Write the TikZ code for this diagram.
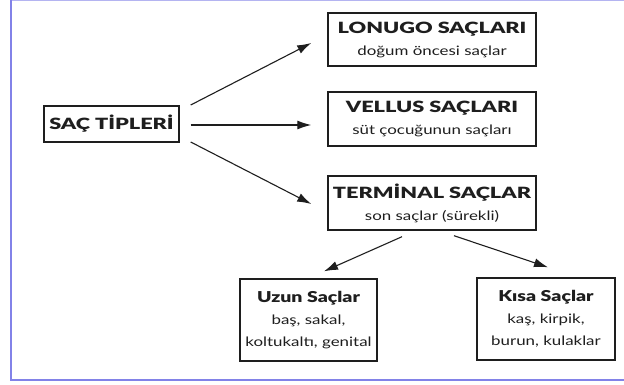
\documentclass[tikz,border=0pt]{standalone}
\usepackage{fontspec}
\setmainfont{Lato}[FakeStretch=1.3]
\newfontfamily\capsfont{Lato Black}[FakeStretch=1.4]
\newfontfamily\mixfont{Lato Black}[FakeStretch=1.3]
\usetikzlibrary{arrows.meta,calc}
\definecolor{frameblue}{RGB}{130,130,232}
\definecolor{ink}{RGB}{30,30,30}
\tikzset{
  box/.style={draw=ink, line width=1.4pt, fill=white, inner sep=0pt, align=center, text=ink,
    font=\fontsize{13}{22}\selectfont},
  conn/.style={draw=ink, line width=1.1pt, -{Latex[length=14pt,width=9pt]}},
}
\newcommand{\ttl}[1]{{\capsfont\fontsize{15.5}{22}\selectfont #1}}
\newcommand{\mttl}[1]{{\mixfont\fontsize{15}{22}\selectfont #1}}
\begin{document}
\begin{tikzpicture}[x=1pt,y=-1pt]
\useasboundingbox (0,0) rectangle (624,385);
\fill[white] (0,0) rectangle (624,385);
% frame
\draw[frameblue!60, line width=1.2pt] (11,0.6) -- (624,0.6);
\draw[frameblue, line width=2pt] (11,0) -- (11,380) -- (624,380);
% nodes
\node[box, minimum width=135pt, minimum height=36pt] (sac) at (111.5,124) {\ttl{SAÇ TİPLERİ}};
\node[box, minimum width=208pt, minimum height=53pt] (lon) at (432,39.5) {\ttl{LONUGO SAÇLARI}\\doğum öncesi saçlar};
\node[box, minimum width=208pt, minimum height=54pt] (vel) at (432,119) {\ttl{VELLUS SAÇLARI}\\süt çocuğunun saçları};
\node[box, minimum width=208pt, minimum height=54pt] (ter) at (432,203) {\ttl{TERMİNAL SAÇLAR}\\son saçlar (sürekli)};
\node[box, minimum width=137pt, minimum height=82pt] (uzun) at (308.5,320) {\mttl{Uzun Saçlar}\\baş, sakal,\\koltukaltı, genital};
\node[box, minimum width=138pt, minimum height=82pt] (kisa) at (546,319) {\mttl{Kısa Saçlar}\\kaş, kirpik,\\burun, kulaklar};
% connectors
\draw[conn] ($(sac.east)+(11,-19)$) -- ($(lon.west)+(-16,3.5)$);
\draw[conn] ($(sac.east)+(11,1)$) -- ($(vel.west)+(-16,6)$);
\draw[conn] ($(sac.east)+(11,18)$) -- ($(ter.west)+(-16,1)$);
\draw[conn] ($(ter.south)+(-30,6)$) -- ($(uzun.north)+(15.5,-7)$);
\draw[conn] ($(ter.south)+(22,5)$) -- ($(kisa.north)+(2,-10)$);
\end{tikzpicture}
\end{document}
